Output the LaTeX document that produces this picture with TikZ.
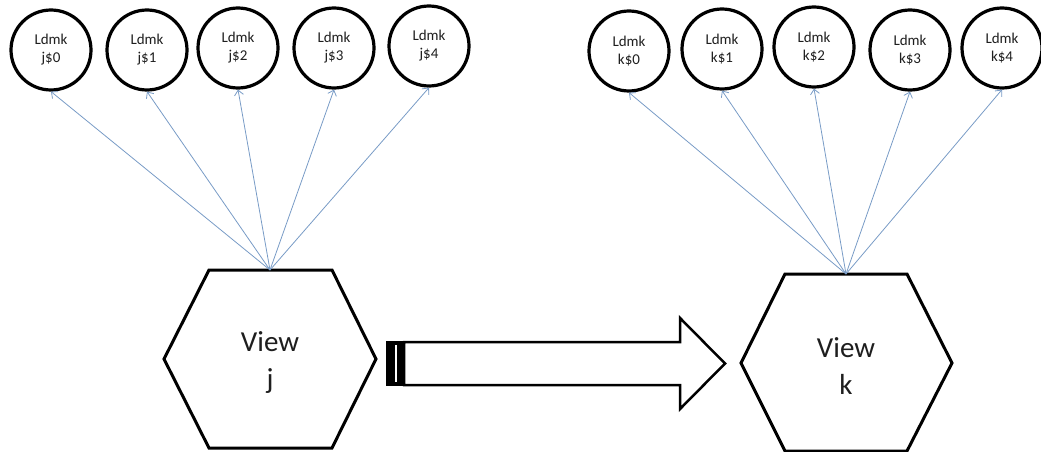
\documentclass[tikz,border=0pt]{standalone}
\usepackage{fontspec}
\setmainfont{Carlito}
\usetikzlibrary{arrows.meta}
\definecolor{linkblue}{RGB}{120,155,198}
\definecolor{inkgray}{RGB}{30,30,30}

\begin{document}
\begin{tikzpicture}[x=1pt,y=-1pt,
    ldmk/.style={circle, draw, line width=3.2pt, minimum size=80pt, inner sep=0pt,
      align=center, text=inkgray, font=\fontsize{15}{18}\selectfont},
    viewtext/.style={align=center, text=inkgray, font=\fontsize{29}{37}\selectfont},
    obs/.style={draw=linkblue, line width=0.8pt, -{Straight Barb[length=5pt,width=9pt]}},
    hexa/.style={draw, line width=3pt, line join=miter}]
    \useasboundingbox (0,0) rectangle (1041,452);
    % landmarks of view j
    \node[ldmk] (lj0) at (51,50) {Ldmk\\j\$0};
    \node[ldmk] (lj1) at (147,50) {Ldmk\\j\$1};
    \node[ldmk] (lj2) at (238,48) {Ldmk\\j\$2};
    \node[ldmk] (lj3) at (334,48) {Ldmk\\j\$3};
    \node[ldmk] (lj4) at (429,46) {Ldmk\\j\$4};
    % landmarks of view k
    \node[ldmk] (lk0) at (629,51) {Ldmk\\k\$0};
    \node[ldmk] (lk1) at (722,49) {Ldmk\\k\$1};
    \node[ldmk] (lk2) at (814,47) {Ldmk\\k\$2};
    \node[ldmk] (lk3) at (910,50) {Ldmk\\k\$3};
    \node[ldmk] (lk4) at (1002,48) {Ldmk\\k\$4};
    % the two views
    \draw[hexa] (164,359) -- (209,270) -- (332,270) -- (376,359) -- (332,448) -- (209,448) -- cycle;
    \coordinate (topj) at (270,270);
    \node[viewtext] (viewj) at (270,363) {View\\j};
    \draw[hexa] (741,363) -- (785,274) -- (907,274) -- (952,363) -- (907,451) -- (785,451) -- cycle;
    \coordinate (topk) at (846,274);
    \node[viewtext] (viewk) at (846,366) {View\\k};
    % observations
    \draw[obs] (topj) -- (lj0.south);
    \draw[obs] (topj) -- (lj1.south);
    \draw[obs] (topj) -- (lj2.south);
    \draw[obs] (topj) -- (lj3.south);
    \draw[obs] (topj) -- (lj4.south);
    \draw[obs] (topk) -- (lk0.south);
    \draw[obs] (topk) -- (lk1.south);
    \draw[obs] (topk) -- (lk2.south);
    \draw[obs] (topk) -- (lk3.south);
    \draw[obs] (topk) -- (lk4.south);
    % striped block arrow from j to k
    \draw[line width=2.5pt, line join=miter] (404,342) -- (680,342) -- (680,318) -- (725,363.5)
      -- (680,409) -- (680,385) -- (404,385) -- cycle;
    \fill (386,341) rectangle (404,386);
    \draw[white, line width=1.5pt] (396,345) -- (396,382);
\end{tikzpicture}
\end{document}
